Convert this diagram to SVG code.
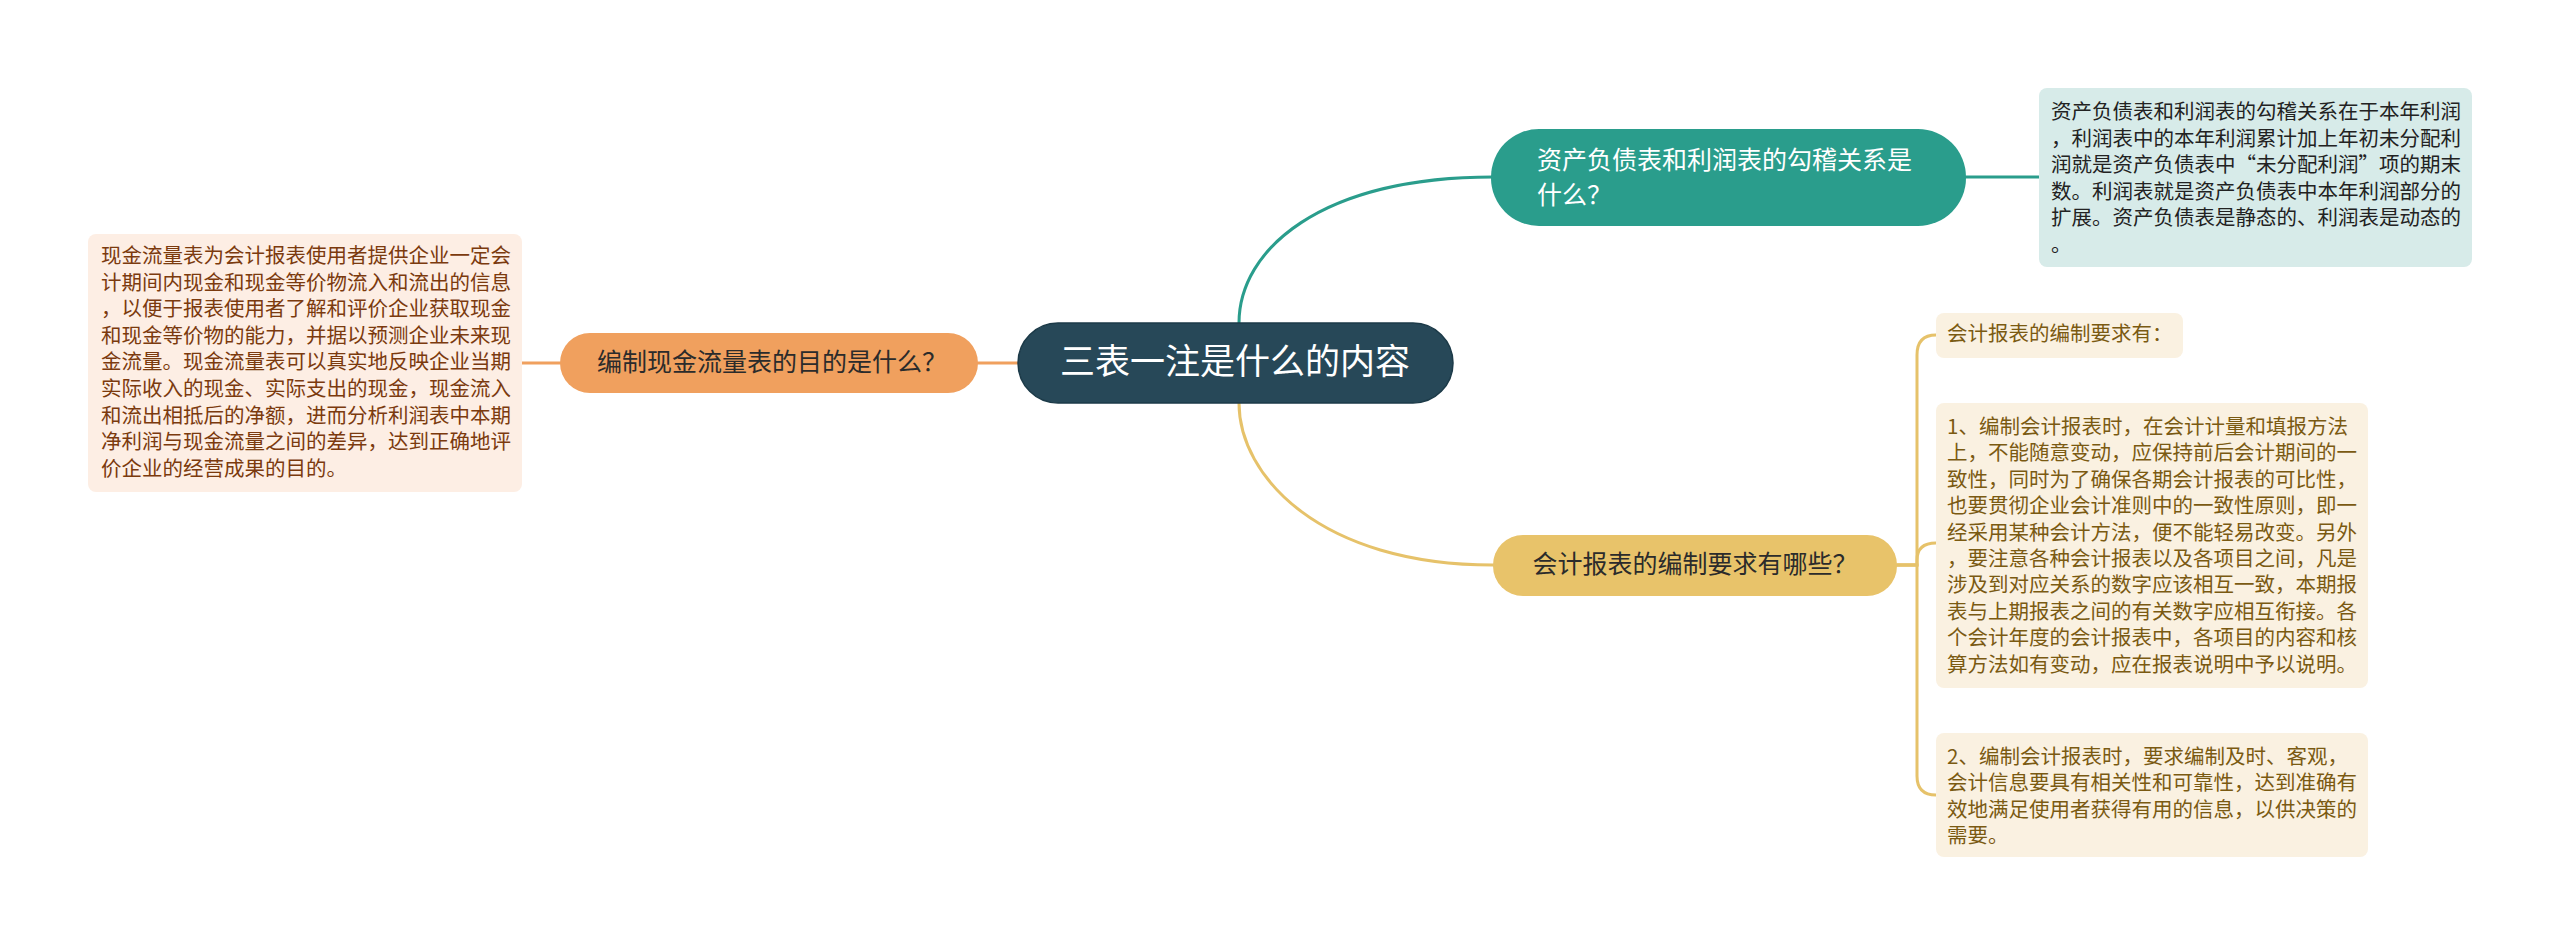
<svg xmlns="http://www.w3.org/2000/svg" width="2560" height="948" viewBox="0 0 2560 948">
<style>
text{font-family:"Noto Sans CJK SC","Noto Sans",sans-serif;}
.leaf{font-size:20.5px;}
.main{font-size:25px;}
.conn{fill:none;stroke-width:3;stroke-linecap:round;}
.teal{stroke:#2a9d8c;}
.orange{stroke:#f0a05e;}
.gold{stroke:#e6c26a;}
</style>
<rect width="2560" height="948" fill="#ffffff"/>
<g id="connectors">
<path class="conn teal" d="M1239 323 C1239 250 1320 177 1493 177"/>
<path class="conn teal" d="M1966 177 L2039 177"/>
<path class="conn gold" d="M1239 403 C1239 476 1320 565 1493 565"/>
<path class="conn orange" d="M1018 363 L978 363"/>
<path class="conn orange" d="M560 363 L522 363"/>
<path class="conn gold" d="M1897 565 L1917 565 L1917 355 Q1917 335 1936 335"/>
<path class="conn gold" d="M1897 565 L1917 565 L1917 560 Q1917 543 1936 543"/>
<path class="conn gold" d="M1897 565 L1917 565 L1917 776 Q1917 795 1936 795"/>
</g>
<g id="root">
<rect x="1018" y="323" width="435" height="80" rx="40" fill="#274858" stroke="#1c3a48" stroke-width="1.5"/>
<text x="1235" y="374" font-size="35" fill="#ffffff" text-anchor="middle">三表一注是什么的内容</text>
</g>
<g id="node-teal">
<rect x="1491" y="129" width="475" height="97" rx="48" fill="#2a9d8c"/>
<text class="main" x="1537" y="169" fill="#ffffff">资产负债表和利润表的勾稽关系是</text>
<text class="main" x="1537" y="204" fill="#ffffff">什么？</text>
</g>
<g id="leaf-teal">
<rect x="2039" y="88" width="433" height="179" rx="8" fill="#d7ebe9"/>
<g class="leaf" fill="#222222">
<text x="2051" y="119">资产负债表和利润表的勾稽关系在于本年利润</text>
<text x="2051" y="145.6">，利润表中的本年利润累计加上年初未分配利</text>
<text x="2051" y="172.2">润就是资产负债表中“未分配利润”项的期末</text>
<text x="2051" y="198.8">数。利润表就是资产负债表中本年利润部分的</text>
<text x="2051" y="225.4">扩展。资产负债表是静态的、利润表是动态的</text>
<text x="2051" y="252">。</text>
</g>
</g>
<g id="node-orange">
<rect x="560" y="333" width="418" height="60" rx="30" fill="#f0a05e"/>
<text class="main" x="772" y="371" fill="#2b2b2b" text-anchor="middle">编制现金流量表的目的是什么？</text>
</g>
<g id="leaf-orange">
<rect x="88" y="234" width="434" height="258" rx="8" fill="#fdeee4"/>
<g class="leaf" fill="#7b3a0e">
<text x="101" y="263">现金流量表为会计报表使用者提供企业一定会</text>
<text x="101" y="289.6">计期间内现金和现金等价物流入和流出的信息</text>
<text x="101" y="316.2">，以便于报表使用者了解和评价企业获取现金</text>
<text x="101" y="342.8">和现金等价物的能力，并据以预测企业未来现</text>
<text x="101" y="369.4">金流量。现金流量表可以真实地反映企业当期</text>
<text x="101" y="396">实际收入的现金、实际支出的现金，现金流入</text>
<text x="101" y="422.6">和流出相抵后的净额，进而分析利润表中本期</text>
<text x="101" y="449.2">净利润与现金流量之间的差异，达到正确地评</text>
<text x="101" y="475.8">价企业的经营成果的目的。</text>
</g>
</g>
<g id="node-gold">
<rect x="1493" y="535" width="404" height="61" rx="30" fill="#e8c36a"/>
<text class="main" x="1695" y="573" fill="#2b2b2b" text-anchor="middle">会计报表的编制要求有哪些？</text>
</g>
<g id="leaf-gold-1">
<rect x="1936" y="313" width="247" height="45" rx="8" fill="#faf1e1"/>
<text class="leaf" x="1947" y="341" fill="#7a5a12">会计报表的编制要求有：</text>
</g>
<g id="leaf-gold-2">
<rect x="1936" y="403" width="432" height="285" rx="8" fill="#faf1e1"/>
<g class="leaf" fill="#7a5a12">
<text x="1947" y="434">1、编制会计报表时，在会计计量和填报方法</text>
<text x="1947" y="460.4">上，不能随意变动，应保持前后会计期间的一</text>
<text x="1947" y="486.8">致性，同时为了确保各期会计报表的可比性，</text>
<text x="1947" y="513.2">也要贯彻企业会计准则中的一致性原则，即一</text>
<text x="1947" y="539.6">经采用某种会计方法，便不能轻易改变。另外</text>
<text x="1947" y="566">，要注意各种会计报表以及各项目之间，凡是</text>
<text x="1947" y="592.4">涉及到对应关系的数字应该相互一致，本期报</text>
<text x="1947" y="618.8">表与上期报表之间的有关数字应相互衔接。各</text>
<text x="1947" y="645.2">个会计年度的会计报表中，各项目的内容和核</text>
<text x="1947" y="671.6">算方法如有变动，应在报表说明中予以说明。</text>
</g>
</g>
<g id="leaf-gold-3">
<rect x="1936" y="733" width="432" height="124" rx="8" fill="#faf1e1"/>
<g class="leaf" fill="#7a5a12">
<text x="1947" y="764">2、编制会计报表时，要求编制及时、客观，</text>
<text x="1947" y="790.3">会计信息要具有相关性和可靠性，达到准确有</text>
<text x="1947" y="816.6">效地满足使用者获得有用的信息，以供决策的</text>
<text x="1947" y="842.9">需要。</text>
</g>
</g>
</svg>
